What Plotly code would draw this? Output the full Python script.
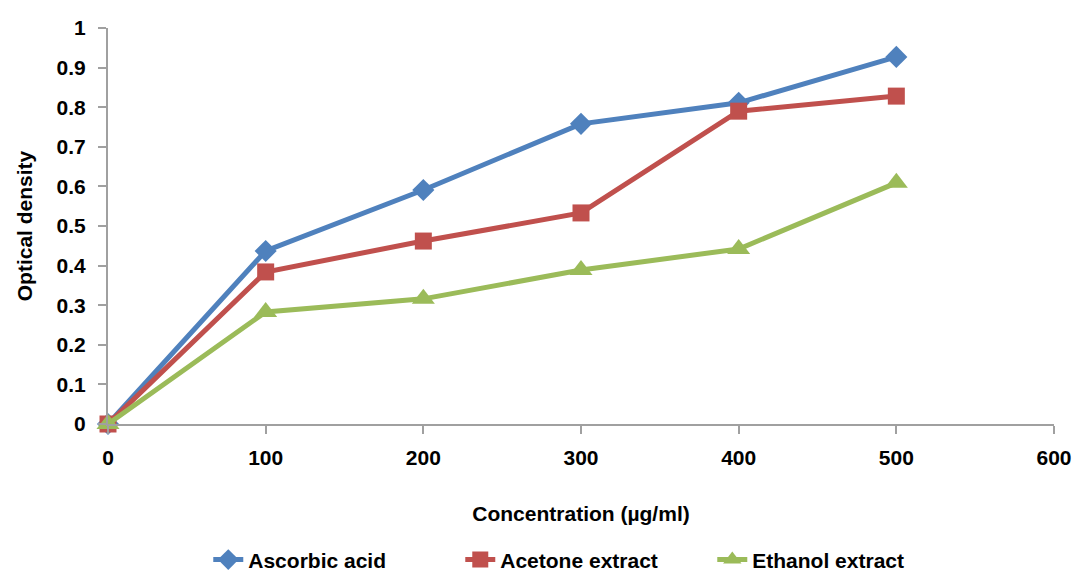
import plotly.graph_objects as go

x = [0, 100, 200, 300, 400, 500]
ascorbic = [0, 0.437, 0.591, 0.758, 0.811, 0.927]
acetone = [0, 0.384, 0.462, 0.533, 0.790, 0.828]
ethanol = [0, 0.283, 0.316, 0.389, 0.442, 0.609]

FONT = "Liberation Sans Narrow, Arial Narrow, Liberation Sans, Arial"

fig = go.Figure()
series = [
    ("Ascorbic acid", ascorbic, "#4F81BD", "diamond", 17),
    ("Acetone extract", acetone, "#C0504D", "square", 17),
    ("Ethanol extract", ethanol, "#9BBB59", "triangle-up", 20),
]
for name, y, c, sym, sz in series:
    fig.add_trace(go.Scatter(x=x, y=y, name="<b>" + name + "</b>", mode="lines+markers",
                             line=dict(color=c, width=5), cliponaxis=False,
                             marker=dict(symbol=sym, size=sz, color=c)))

fig.update_layout(
    width=1075, height=576,
    margin=dict(l=108, r=21, t=28, b=152, autoexpand=False),
    plot_bgcolor="white", paper_bgcolor="white",
    font=dict(family=FONT, size=20, color="black"),
    legend=dict(orientation="h", x=0.106, xanchor="left", y=-0.395, yanchor="bottom",
                font=dict(family=FONT, size=21, color="black"),
                entrywidth=207, entrywidthmode="pixels", tracegroupgap=0),
)
fig.update_xaxes(range=[0, 600], dtick=100, showline=True, linecolor="#A0A0A0", linewidth=2,
                 ticks="outside", tickcolor="#A0A0A0", ticklen=8, tickwidth=2,
                 showgrid=False, zeroline=False, ticklabelstandoff=6,
                 tickfont=dict(family=FONT, size=21, color="black"),
                 title=dict(text="<b>Concentration (µg/ml)</b>", standoff=38,
                            font=dict(family=FONT, size=21, color="black")),
                 tickprefix="<b>", ticksuffix="</b>")
fig.update_yaxes(range=[0, 1], dtick=0.1, showline=True, linecolor="#A0A0A0", linewidth=2,
                 ticks="outside", tickcolor="#A0A0A0", ticklen=8, tickwidth=2,
                 showgrid=False, zeroline=False, ticklabelstandoff=8,
                 tickfont=dict(family=FONT, size=21, color="black"),
                 title=dict(text="<b>Optical density</b>", standoff=18,
                            font=dict(family=FONT, size=21, color="black")),
                 tickprefix="<b>", ticksuffix="</b>")

fig.write_html("out.html")
